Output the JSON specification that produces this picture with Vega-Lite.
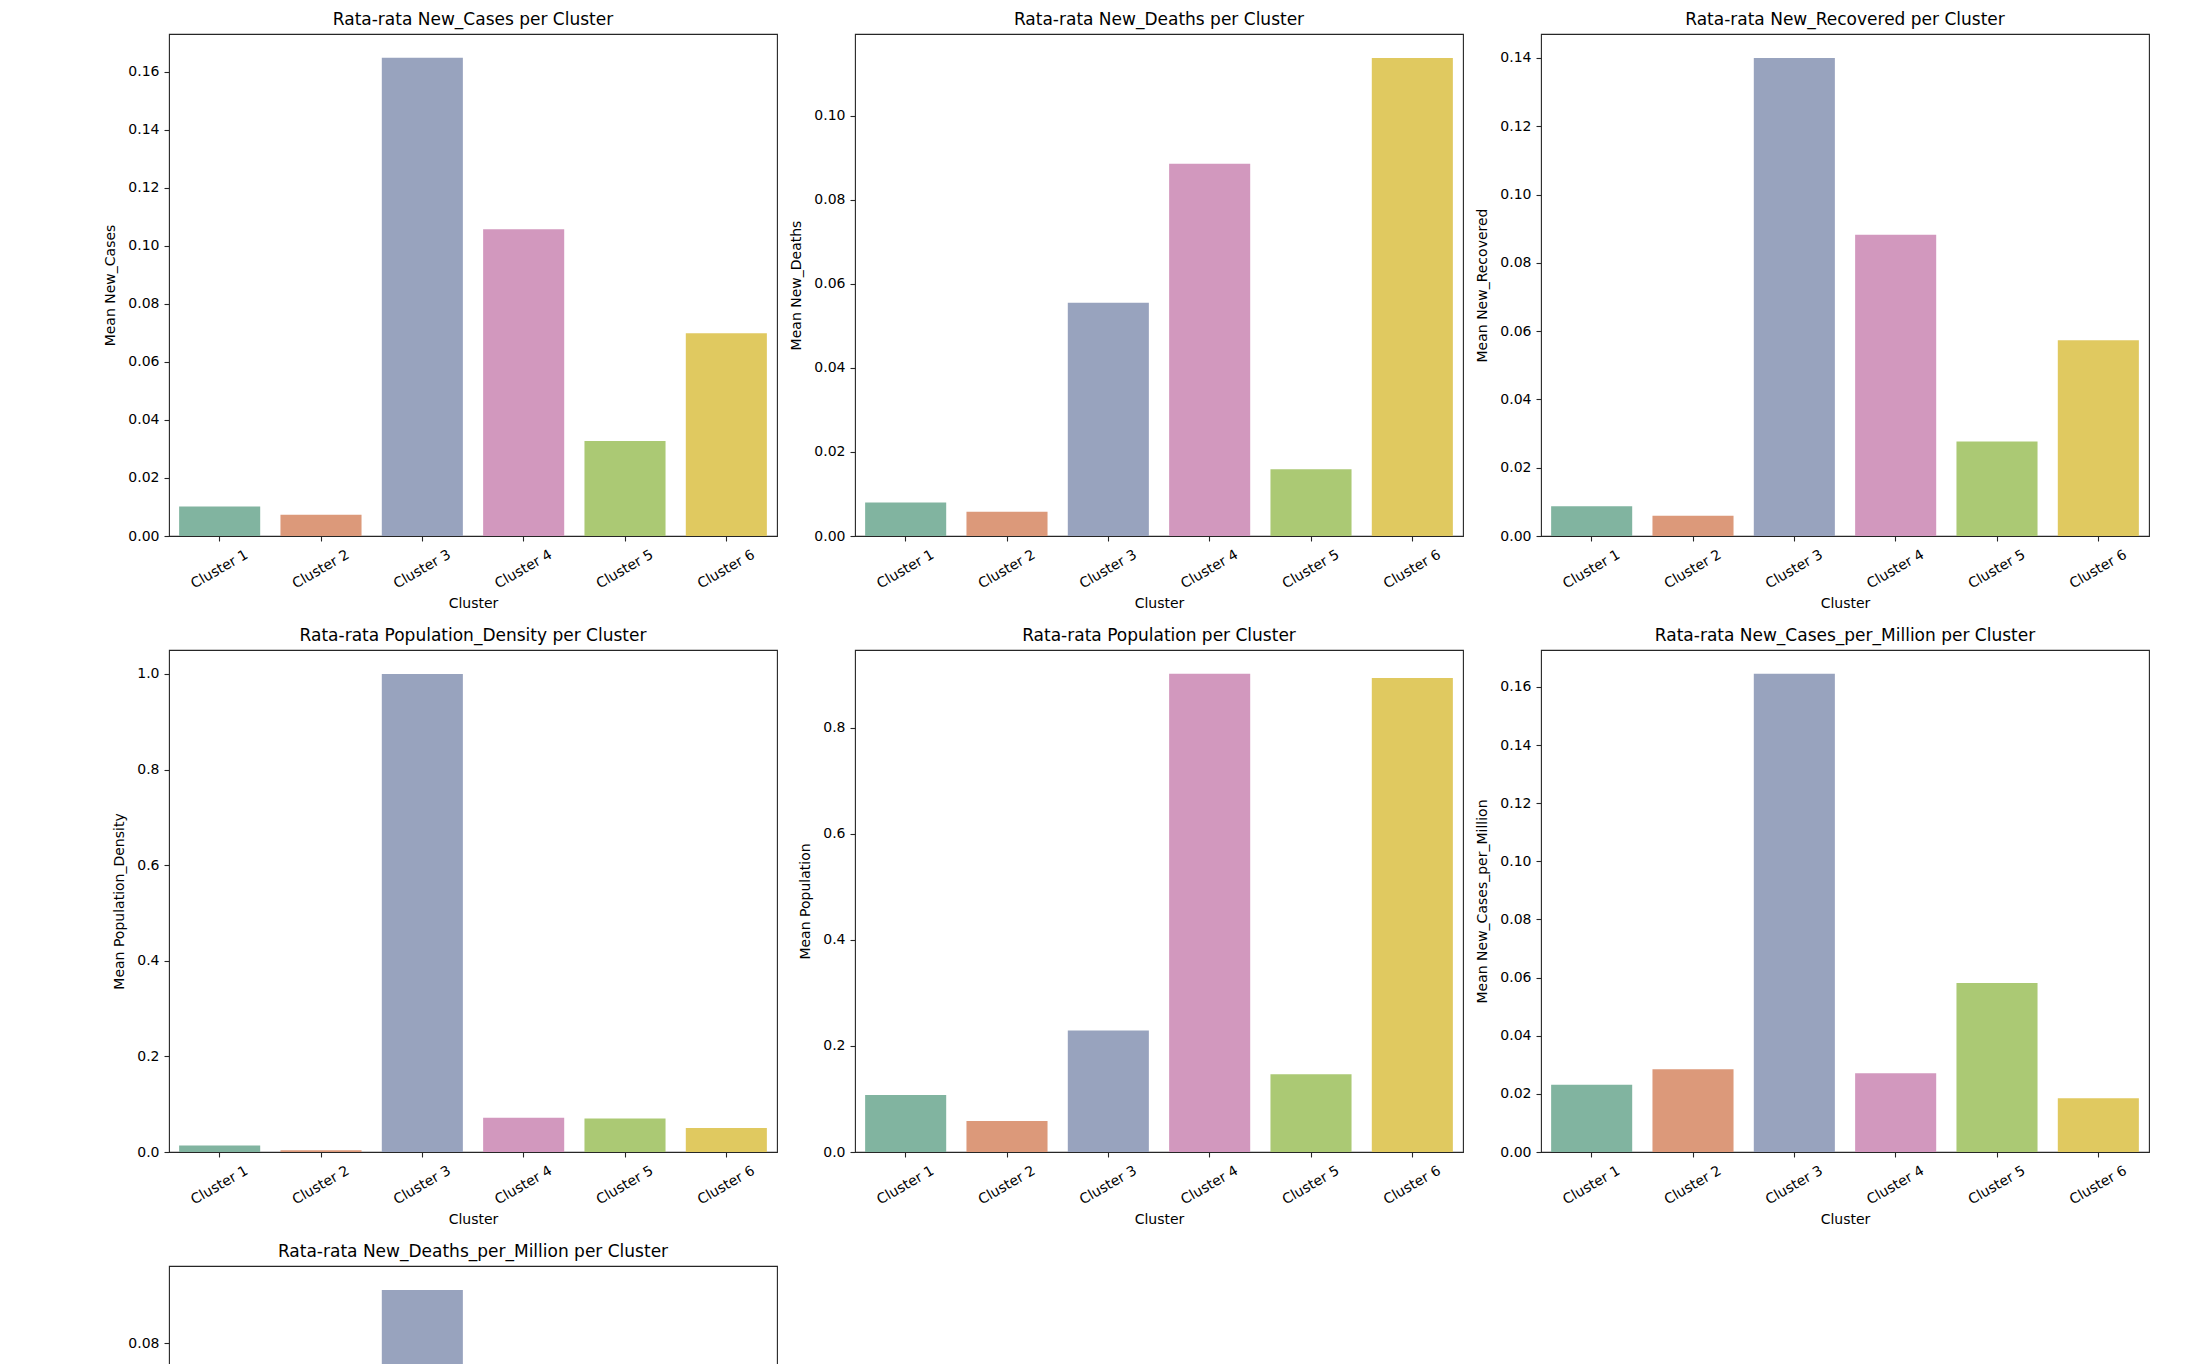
{
  "$schema": "https://vega.github.io/schema/vega-lite/v6.json",
  "background": "white",
  "padding": {"left": 103, "top": 9, "right": 0, "bottom": 0},
  "datasets": {
    "means": [
      {"Metric": "New_Cases", "Cluster": "Cluster 1", "Mean": 0.0102},
      {"Metric": "New_Cases", "Cluster": "Cluster 2", "Mean": 0.0073},
      {"Metric": "New_Cases", "Cluster": "Cluster 3", "Mean": 0.1648},
      {"Metric": "New_Cases", "Cluster": "Cluster 4", "Mean": 0.1057},
      {"Metric": "New_Cases", "Cluster": "Cluster 5", "Mean": 0.0327},
      {"Metric": "New_Cases", "Cluster": "Cluster 6", "Mean": 0.0699},
      {"Metric": "New_Deaths", "Cluster": "Cluster 1", "Mean": 0.0080},
      {"Metric": "New_Deaths", "Cluster": "Cluster 2", "Mean": 0.0058},
      {"Metric": "New_Deaths", "Cluster": "Cluster 3", "Mean": 0.0555},
      {"Metric": "New_Deaths", "Cluster": "Cluster 4", "Mean": 0.0886},
      {"Metric": "New_Deaths", "Cluster": "Cluster 5", "Mean": 0.0159},
      {"Metric": "New_Deaths", "Cluster": "Cluster 6", "Mean": 0.1138},
      {"Metric": "New_Recovered", "Cluster": "Cluster 1", "Mean": 0.0087},
      {"Metric": "New_Recovered", "Cluster": "Cluster 2", "Mean": 0.0059},
      {"Metric": "New_Recovered", "Cluster": "Cluster 3", "Mean": 0.1400},
      {"Metric": "New_Recovered", "Cluster": "Cluster 4", "Mean": 0.0882},
      {"Metric": "New_Recovered", "Cluster": "Cluster 5", "Mean": 0.0277},
      {"Metric": "New_Recovered", "Cluster": "Cluster 6", "Mean": 0.0573},
      {"Metric": "Population_Density", "Cluster": "Cluster 1", "Mean": 0.0137},
      {"Metric": "Population_Density", "Cluster": "Cluster 2", "Mean": 0.0034},
      {"Metric": "Population_Density", "Cluster": "Cluster 3", "Mean": 1.0},
      {"Metric": "Population_Density", "Cluster": "Cluster 4", "Mean": 0.0717},
      {"Metric": "Population_Density", "Cluster": "Cluster 5", "Mean": 0.0700},
      {"Metric": "Population_Density", "Cluster": "Cluster 6", "Mean": 0.0503},
      {"Metric": "Population", "Cluster": "Cluster 1", "Mean": 0.1075},
      {"Metric": "Population", "Cluster": "Cluster 2", "Mean": 0.0585},
      {"Metric": "Population", "Cluster": "Cluster 3", "Mean": 0.229},
      {"Metric": "Population", "Cluster": "Cluster 4", "Mean": 0.902},
      {"Metric": "Population", "Cluster": "Cluster 5", "Mean": 0.1465},
      {"Metric": "Population", "Cluster": "Cluster 6", "Mean": 0.894},
      {"Metric": "New_Cases_per_Million", "Cluster": "Cluster 1", "Mean": 0.0231},
      {"Metric": "New_Cases_per_Million", "Cluster": "Cluster 2", "Mean": 0.0285},
      {"Metric": "New_Cases_per_Million", "Cluster": "Cluster 3", "Mean": 0.1645},
      {"Metric": "New_Cases_per_Million", "Cluster": "Cluster 4", "Mean": 0.0271},
      {"Metric": "New_Cases_per_Million", "Cluster": "Cluster 5", "Mean": 0.0581},
      {"Metric": "New_Cases_per_Million", "Cluster": "Cluster 6", "Mean": 0.0185},
      {"Metric": "New_Deaths_per_Million", "Cluster": "Cluster 1", "Mean": 0.008},
      {"Metric": "New_Deaths_per_Million", "Cluster": "Cluster 2", "Mean": 0.005},
      {"Metric": "New_Deaths_per_Million", "Cluster": "Cluster 3", "Mean": 0.0901},
      {"Metric": "New_Deaths_per_Million", "Cluster": "Cluster 4", "Mean": 0.03},
      {"Metric": "New_Deaths_per_Million", "Cluster": "Cluster 5", "Mean": 0.02},
      {"Metric": "New_Deaths_per_Million", "Cluster": "Cluster 6", "Mean": 0.015}
    ]
  },
  "data": {"name": "means"},
  "columns": 3,
  "spacing": {"row": 114, "column": 78},
  "bounds": "flush",
  "align": "all",
  "concat": [
    {
      "title": "Rata-rata New_Cases per Cluster",
      "width": 608, "height": 502,
      "transform": [{"filter": "datum.Metric === 'New_Cases'"}],
      "mark": "bar",
      "encoding": {
        "x": {"field": "Cluster", "type": "nominal", "sort": null, "scale": {"paddingInner": 0.2, "paddingOuter": 0.1}, "axis": {"title": "Cluster"}},
        "y": {"field": "Mean", "type": "quantitative", "scale": {"domain": [0, 0.173], "nice": false, "zero": true}, "axis": {"title": "Mean New_Cases", "values": [0, 0.02, 0.04, 0.06, 0.08, 0.1, 0.12, 0.14, 0.16], "format": ".2f"}},
        "color": {"field": "Cluster", "type": "nominal", "scale": {"range": ["#81b4a0", "#dc997a", "#98a3be", "#d298be", "#abc974", "#e0c960"]}, "legend": null}
      }
    },
    {
      "title": "Rata-rata New_Deaths per Cluster",
      "width": 608, "height": 502,
      "transform": [{"filter": "datum.Metric === 'New_Deaths'"}],
      "mark": "bar",
      "encoding": {
        "x": {"field": "Cluster", "type": "nominal", "sort": null, "scale": {"paddingInner": 0.2, "paddingOuter": 0.1}, "axis": {"title": "Cluster"}},
        "y": {"field": "Mean", "type": "quantitative", "scale": {"domain": [0, 0.1195], "nice": false, "zero": true}, "axis": {"title": "Mean New_Deaths", "values": [0, 0.02, 0.04, 0.06, 0.08, 0.1], "format": ".2f"}},
        "color": {"field": "Cluster", "type": "nominal", "scale": {"range": ["#81b4a0", "#dc997a", "#98a3be", "#d298be", "#abc974", "#e0c960"]}, "legend": null}
      }
    },
    {
      "title": "Rata-rata New_Recovered per Cluster",
      "width": 608, "height": 502,
      "transform": [{"filter": "datum.Metric === 'New_Recovered'"}],
      "mark": "bar",
      "encoding": {
        "x": {"field": "Cluster", "type": "nominal", "sort": null, "scale": {"paddingInner": 0.2, "paddingOuter": 0.1}, "axis": {"title": "Cluster"}},
        "y": {"field": "Mean", "type": "quantitative", "scale": {"domain": [0, 0.147], "nice": false, "zero": true}, "axis": {"title": "Mean New_Recovered", "values": [0, 0.02, 0.04, 0.06, 0.08, 0.1, 0.12, 0.14], "format": ".2f"}},
        "color": {"field": "Cluster", "type": "nominal", "scale": {"range": ["#81b4a0", "#dc997a", "#98a3be", "#d298be", "#abc974", "#e0c960"]}, "legend": null}
      }
    },
    {
      "title": "Rata-rata Population_Density per Cluster",
      "width": 608, "height": 502,
      "transform": [{"filter": "datum.Metric === 'Population_Density'"}],
      "mark": "bar",
      "encoding": {
        "x": {"field": "Cluster", "type": "nominal", "sort": null, "scale": {"paddingInner": 0.2, "paddingOuter": 0.1}, "axis": {"title": "Cluster"}},
        "y": {"field": "Mean", "type": "quantitative", "scale": {"domain": [0, 1.05], "nice": false, "zero": true}, "axis": {"title": "Mean Population_Density", "values": [0, 0.2, 0.4, 0.6, 0.8, 1.0], "format": ".1f"}},
        "color": {"field": "Cluster", "type": "nominal", "scale": {"range": ["#81b4a0", "#dc997a", "#98a3be", "#d298be", "#abc974", "#e0c960"]}, "legend": null}
      }
    },
    {
      "title": "Rata-rata Population per Cluster",
      "width": 608, "height": 502,
      "transform": [{"filter": "datum.Metric === 'Population'"}],
      "mark": "bar",
      "encoding": {
        "x": {"field": "Cluster", "type": "nominal", "sort": null, "scale": {"paddingInner": 0.2, "paddingOuter": 0.1}, "axis": {"title": "Cluster"}},
        "y": {"field": "Mean", "type": "quantitative", "scale": {"domain": [0, 0.947], "nice": false, "zero": true}, "axis": {"title": "Mean Population", "values": [0, 0.2, 0.4, 0.6, 0.8], "format": ".1f"}},
        "color": {"field": "Cluster", "type": "nominal", "scale": {"range": ["#81b4a0", "#dc997a", "#98a3be", "#d298be", "#abc974", "#e0c960"]}, "legend": null}
      }
    },
    {
      "title": "Rata-rata New_Cases_per_Million per Cluster",
      "width": 608, "height": 502,
      "transform": [{"filter": "datum.Metric === 'New_Cases_per_Million'"}],
      "mark": "bar",
      "encoding": {
        "x": {"field": "Cluster", "type": "nominal", "sort": null, "scale": {"paddingInner": 0.2, "paddingOuter": 0.1}, "axis": {"title": "Cluster"}},
        "y": {"field": "Mean", "type": "quantitative", "scale": {"domain": [0, 0.1727], "nice": false, "zero": true}, "axis": {"title": "Mean New_Cases_per_Million", "values": [0, 0.02, 0.04, 0.06, 0.08, 0.1, 0.12, 0.14, 0.16], "format": ".2f"}},
        "color": {"field": "Cluster", "type": "nominal", "scale": {"range": ["#81b4a0", "#dc997a", "#98a3be", "#d298be", "#abc974", "#e0c960"]}, "legend": null}
      }
    },
    {
      "title": "Rata-rata New_Deaths_per_Million per Cluster",
      "width": 608, "height": 502,
      "transform": [{"filter": "datum.Metric === 'New_Deaths_per_Million'"}],
      "mark": "bar",
      "encoding": {
        "x": {"field": "Cluster", "type": "nominal", "sort": null, "scale": {"paddingInner": 0.2, "paddingOuter": 0.1}, "axis": {"title": "Cluster"}},
        "y": {"field": "Mean", "type": "quantitative", "scale": {"domain": [0, 0.0946], "nice": false, "zero": true}, "axis": {"title": "Mean New_Deaths_per_Million", "values": [0, 0.02, 0.04, 0.06, 0.08], "format": ".2f"}},
        "color": {"field": "Cluster", "type": "nominal", "scale": {"range": ["#81b4a0", "#dc997a", "#98a3be", "#d298be", "#abc974", "#e0c960"]}, "legend": null}
      }
    }
  ],
  "config": {
    "font": "DejaVu Sans",
    "view": {"stroke": "#262626", "strokeWidth": 1.1},
    "axis": {
      "labelFont": "DejaVu Sans", "labelFontSize": 14, "labelColor": "#000000",
      "titleFont": "DejaVu Sans", "titleFontSize": 14, "titleFontWeight": "normal", "titleColor": "#000000",
      "tickColor": "#262626", "tickWidth": 1.1, "tickSize": 5,
      "domain": false, "grid": false, "labelPadding": 5, "titlePadding": 10
    },
    "axisX": {"labelAngle": -30, "labelAlign": "center", "labelBaseline": "middle", "labelPadding": 28, "titlePadding": 6},
    "title": {"font": "DejaVu Sans", "fontSize": 17, "fontWeight": "normal", "color": "#000000", "offset": 5.5, "baseline": "alphabetic", "frame": "group", "anchor": "middle"}
  }
}
